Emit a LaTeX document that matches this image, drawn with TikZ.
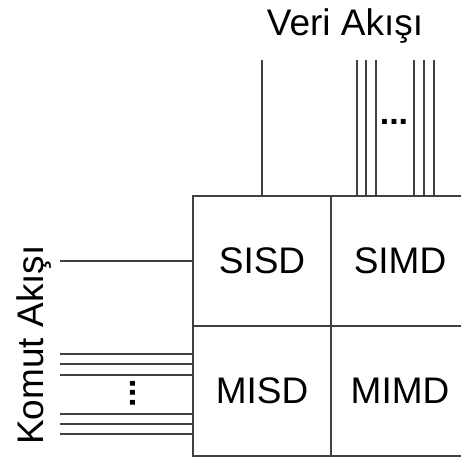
\documentclass[tikz,border=0pt]{standalone}
\usepackage{fontspec}
\setmainfont{Liberation Sans}
\usepackage{tikz}

\begin{document}
\begin{tikzpicture}[x=1pt, y=-1pt, line width=1.2pt, draw=black!75,
  cell/.style={draw=black!75, minimum width=138pt, minimum height=130pt, inner sep=0pt, font=\fontsize{37}{44}\selectfont},
  dotsy/.style={inner sep=0pt, font=\fontsize{34}{36}\selectfont\bfseries}]
\useasboundingbox (0,0) rectangle (461,461);

% the four cells of the taxonomy
\node[cell] (sisd) at (262,261) {SISD};
\node[cell] (simd) at (400,261) {SIMD};
\node[cell] (misd) at (262,391) {MISD};
\node[cell] (mimd) at (400,391) {MIMD};

% data stream, from the top
\node[font=\fontsize{37}{44}\selectfont, anchor=base] (veri) at (345,35) {Veri Akışı};
\coordinate (d0) at (262,60);
\draw[black!75] (d0) -- (sisd.north);
\foreach \x in {357,366,376,414,424,434}
  \draw[black!75] (\x,60) -- (simd.north -| \x,0);
\node[dotsy] (ddots) at (394,122) {...};

% instruction stream, from the left
\node[font=\fontsize{37}{44}\selectfont, rotate=90, anchor=base] (komut) at (43,345) {Komut Akışı};
\coordinate (c0) at (60,261);
\draw[black!75] (c0) -- (sisd.west);
\foreach \y in {354,364,375,414,424,434}
  \draw[black!75] (60,\y) -- (misd.west |- 0,\y);
\node[dotsy, rotate=90] (cdots) at (133,393) {...};

\end{tikzpicture}
\end{document}
